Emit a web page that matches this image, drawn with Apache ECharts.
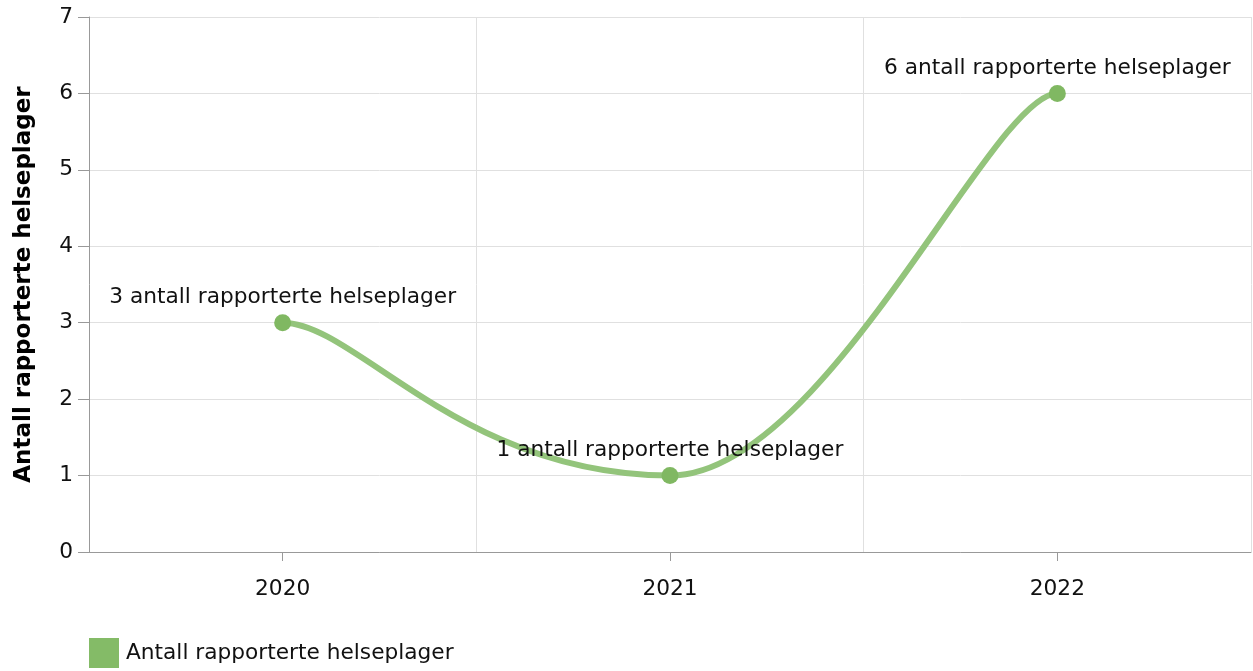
<!DOCTYPE html>
<html><head><meta charset="utf-8">
<script src="https://cdn.jsdelivr.net/npm/echarts@6/dist/echarts.min.js"></script>
<style>html,body{margin:0;padding:0;background:#fff}#c{width:1253px;height:671px}</style>
</head><body><div id="c"></div>
<script>
const categories = ['2020', '2021', '2022'];
const values = [3, 1, 6];
const seriesName = 'Antall rapporterte helseplager';
const yAxisTitle = 'Antall rapporterte helseplager';
const labelSuffix = ' antall rapporterte helseplager';

const font = 'DejaVu Sans, Verdana, sans-serif';
const fs = 21.7;
const lineColor = '#93c47b';
// spline handle lengths (fraction of segment width), horizontal tangents: [leaving, arriving]
const segTension = [[0.19, 0.54], [0.40, 0.17]];

const chart = echarts.init(document.getElementById('c'), null, {renderer: 'canvas'});
chart.setOption({
  animation: false,
  grid: {left: 89, right: 2, top: 17, bottom: 119, containLabel: false},
  legend: {
    left: 89, top: 638, padding: 0, itemWidth: 30, itemHeight: 30, itemGap: 20,
    icon: 'rect',
    data: [{name: seriesName, itemStyle: {color: '#84bb67'}}],
    textStyle: {fontFamily: font, fontSize: fs, color: '#111', padding: [0, 0, 0, 2]}
  },
  xAxis: {
    type: 'category', data: categories, boundaryGap: true,
    axisLine: {show: true, lineStyle: {color: '#999', width: 1}},
    axisTick: {show: true, alignWithLabel: true, length: 9, lineStyle: {color: '#999'}},
    axisLabel: {fontFamily: font, fontSize: fs, color: '#111', margin: 26},
    splitLine: {show: true, lineStyle: {color: '#e0e0e0', width: 1}}
  },
  yAxis: {
    type: 'value', min: 0, max: 7, interval: 1,
    name: yAxisTitle, nameLocation: 'middle', nameGap: 53, nameRotate: 90,
    nameTextStyle: {fontFamily: font, fontSize: 23, fontWeight: 'bold', color: '#000'},
    axisLine: {show: true, lineStyle: {color: '#999', width: 1}},
    axisTick: {show: true, length: 11, lineStyle: {color: '#999'}},
    axisLabel: {fontFamily: font, fontSize: fs, color: '#111', margin: 16},
    splitLine: {show: true, lineStyle: {color: '#e0e0e0', width: 1}}
  },
  series: [
    {
      name: seriesName + ' curve', type: 'custom', z: 2, silent: true,
      data: values.map((v, i) => [i, v]),
      renderItem: function (params, api) {
        const i = params.dataIndex;
        if (i === 0) return null;
        const p0 = api.coord([i - 1, values[i - 1]]);
        const p1 = api.coord([i, api.value(1)]);
        const dx = p1[0] - p0[0];
        const t = segTension[i - 1] || [0.4, 0.4];
        return {
          type: 'bezierCurve',
          shape: {x1: p0[0], y1: p0[1], x2: p1[0], y2: p1[1],
                  cpx1: p0[0] + t[0] * dx, cpy1: p0[1], cpx2: p1[0] - t[1] * dx, cpy2: p1[1]},
          style: {stroke: lineColor, lineWidth: 6, fill: null, lineCap: 'round'}
        };
      }
    },
    {
      name: seriesName, type: 'line', data: values, z: 3,
      symbol: 'circle', symbolSize: 17,
      lineStyle: {width: 0, opacity: 0},
      itemStyle: {color: '#80b862'},
      label: {show: true, position: 'top', distance: 6,
        fontFamily: font, fontSize: fs, color: '#111',
        formatter: p => p.value + labelSuffix}
    }
  ]
});
</script></body></html>
